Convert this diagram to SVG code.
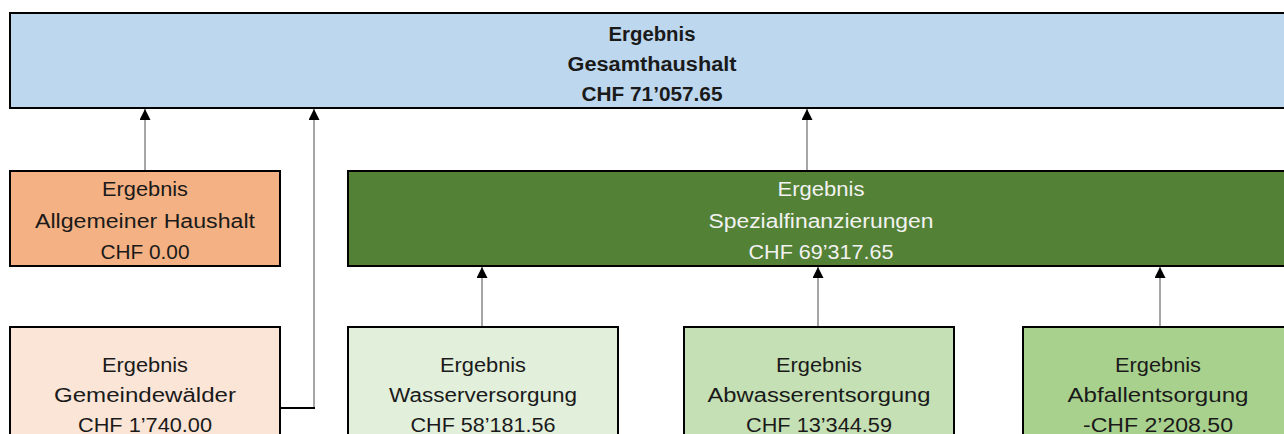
<svg xmlns="http://www.w3.org/2000/svg" width="1284" height="434" viewBox="0 0 1284 434">
<style>
.box{stroke:#000;stroke-width:2}
.t{font-family:"Liberation Sans",Arial,sans-serif;font-size:20px;fill:#1a1a1a;text-anchor:middle}
.b{font-weight:bold}
.w{fill:#f2f2f2}
.con{fill:none;stroke:#808080;stroke-width:1.4}
</style>
<defs>
<marker id="ah" markerUnits="userSpaceOnUse" markerWidth="11" markerHeight="11" refX="11" refY="5.5" orient="auto">
<path d="M0,0 L11,5.5 L0,11 z" fill="#000"/>
</marker>
</defs>
<rect width="1284" height="434" fill="#fff"/>
<g id="connectors">
<line class="con" x1="145" y1="170" x2="145" y2="109" marker-end="url(#ah)"/>
<line class="con" x1="314" y1="408" x2="314" y2="109" marker-end="url(#ah)"/>
<line x1="280" y1="408" x2="315" y2="408" stroke="#000" stroke-width="2"/>
<line class="con" x1="807" y1="170" x2="807" y2="109" marker-end="url(#ah)"/>
<line class="con" x1="482" y1="326" x2="482" y2="267" marker-end="url(#ah)"/>
<line class="con" x1="818" y1="326" x2="818" y2="267" marker-end="url(#ah)"/>
<line class="con" x1="1160" y1="326" x2="1160" y2="267" marker-end="url(#ah)"/>
</g>
<g id="gesamt">
<rect class="box" x="10" y="13" width="1284" height="95" fill="#BDD7EE"/>
<text class="t b" x="652" y="41" textLength="87" lengthAdjust="spacingAndGlyphs">Ergebnis</text>
<text class="t b" x="652" y="71" textLength="169" lengthAdjust="spacingAndGlyphs">Gesamthaushalt</text>
<text class="t b" x="652" y="101" textLength="141" lengthAdjust="spacingAndGlyphs">CHF 71’057.65</text>
</g>
<g id="allgemein">
<rect class="box" x="10" y="171" width="270" height="95" fill="#F4B183"/>
<text class="t" x="145" y="196" textLength="86" lengthAdjust="spacingAndGlyphs">Ergebnis</text>
<text class="t" x="145" y="227.5" textLength="220" lengthAdjust="spacingAndGlyphs">Allgemeiner Haushalt</text>
<text class="t" x="145" y="259" textLength="89" lengthAdjust="spacingAndGlyphs">CHF 0.00</text>
</g>
<g id="spezial">
<rect class="box" x="348" y="171" width="946" height="95" fill="#538135"/>
<text class="t w" x="821" y="196" textLength="87" lengthAdjust="spacingAndGlyphs">Ergebnis</text>
<text class="t w" x="821" y="227.5" textLength="225" lengthAdjust="spacingAndGlyphs">Spezialfinanzierungen</text>
<text class="t w" x="821" y="259" textLength="145" lengthAdjust="spacingAndGlyphs">CHF 69’317.65</text>
</g>
<g id="gemeindewaelder">
<rect class="box" x="10" y="327" width="270" height="120" fill="#FBE5D6"/>
<text class="t" x="145" y="372" textLength="86" lengthAdjust="spacingAndGlyphs">Ergebnis</text>
<text class="t" x="145" y="402" textLength="182" lengthAdjust="spacingAndGlyphs">Gemeindewälder</text>
<text class="t" x="145" y="432" textLength="134" lengthAdjust="spacingAndGlyphs">CHF 1’740.00</text>
</g>
<g id="wasser">
<rect class="box" x="348" y="327" width="270" height="120" fill="#E2EFDA"/>
<text class="t" x="483" y="372" textLength="86" lengthAdjust="spacingAndGlyphs">Ergebnis</text>
<text class="t" x="483" y="402" textLength="188" lengthAdjust="spacingAndGlyphs">Wasserversorgung</text>
<text class="t" x="483" y="432" textLength="145" lengthAdjust="spacingAndGlyphs">CHF 58’181.56</text>
</g>
<g id="abwasser">
<rect class="box" x="684" y="327" width="270" height="120" fill="#C5E0B4"/>
<text class="t" x="819" y="372" textLength="86" lengthAdjust="spacingAndGlyphs">Ergebnis</text>
<text class="t" x="819" y="402" textLength="223" lengthAdjust="spacingAndGlyphs">Abwasserentsorgung</text>
<text class="t" x="819" y="432" textLength="146" lengthAdjust="spacingAndGlyphs">CHF 13’344.59</text>
</g>
<g id="abfall">
<rect class="box" x="1023" y="327" width="270" height="120" fill="#A9D18E"/>
<text class="t" x="1158" y="372" textLength="86" lengthAdjust="spacingAndGlyphs">Ergebnis</text>
<text class="t" x="1158" y="402" textLength="181" lengthAdjust="spacingAndGlyphs">Abfallentsorgung</text>
<text class="t" x="1158" y="432" textLength="150" lengthAdjust="spacingAndGlyphs">-CHF 2’208.50</text>
</g>
</svg>
